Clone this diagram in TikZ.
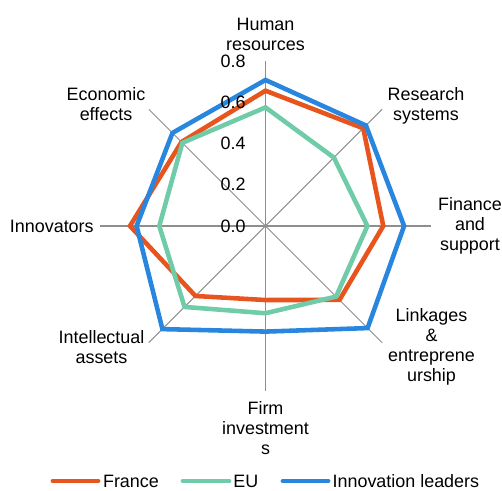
\documentclass[tikz,border=0pt]{standalone}
\usepackage{fontspec}
\setmainfont{Liberation Sans}

\definecolor{france}{HTML}{E8541E}
\definecolor{eu}{HTML}{6FCBA8}
\definecolor{leaders}{HTML}{2886DF}
\definecolor{spoke}{HTML}{8E8E8E}

\tikzset{
    spokeline/.style={draw=spoke, line width=0.6pt},
    series/.style={line width=2.6pt, line join=miter},
    legline/.style={line width=2.4pt, line cap=round},
    lbl/.style={align=center, inner sep=0pt, font=\fontsize{10.2}{11.4}\selectfont},
}

\begin{document}
\begin{tikzpicture}
    \def\rr{4.125}
    \useasboundingbox (-5.31,-5.30) rectangle (4.73,4.52);

    % spokes
    \coordinate (o) at (0,0);
    \foreach \a [count=\i] in {90,45,0,-45,-90,-135,180,135} {
        \coordinate (ax\i) at (\a:3.3);
        \path[spokeline] (o) -- (ax\i);
    }

    % series
    \draw[series, france] (90:{0.656*\rr}) -- (45:{0.670*\rr}) -- (0:{0.571*\rr}) -- (-45:{0.507*\rr})
        -- (-90:{0.359*\rr}) -- (-135:{0.480*\rr}) -- (180:{0.657*\rr}) -- (135:{0.576*\rr}) -- cycle;
    \draw[series, eu] (90:{0.575*\rr}) -- (45:{0.469*\rr}) -- (0:{0.494*\rr}) -- (-45:{0.484*\rr})
        -- (-90:{0.423*\rr}) -- (-135:{0.555*\rr}) -- (180:{0.515*\rr}) -- (135:{0.570*\rr}) -- cycle;
    \draw[series, leaders] (90:{0.708*\rr}) -- (45:{0.689*\rr}) -- (0:{0.672*\rr}) -- (-45:{0.700*\rr})
        -- (-90:{0.512*\rr}) -- (-135:{0.707*\rr}) -- (180:{0.625*\rr}) -- (135:{0.638*\rr}) -- cycle;

    % axis values
    \foreach \t [count=\i] in {0.0,0.2,0.4,0.6,0.8}
        \node[lbl, anchor=east] (tick\i) at (-0.39,{(\i-1)*0.825}) {\t};

    % categories
    \node[lbl] (hr) at (0,3.84) {Human\\resources};
    \node[lbl] (rs) at (3.21,2.41) {Research\\systems};
    \node[lbl] (fs) at (4.09,0) {Finance\\and\\support};
    \node[lbl] (le) at (3.32,-2.41) {Linkages\\\&\\entreprene\\urship};
    \node[lbl] (fi) at (0,-4.04) {Firm\\investment\\s};
    \node[lbl] (ia) at (-3.28,-2.42) {Intellectual\\assets};
    \node[lbl, anchor=east] (inn) at (-3.43,0) {Innovators};
    \node[lbl] (ee) at (-3.19,2.43) {Economic\\effects};

    % legend
    \draw[legline, france] (-4.256,-5.10) -- (-3.344,-5.10);
    \node[lbl, anchor=west] (legfr) at (-3.256,-5.10) {France};
    \draw[legline, eu] (-1.656,-5.10) -- (-0.724,-5.10);
    \node[lbl, anchor=west] (legeu) at (-0.65,-5.10) {EU};
    \draw[legline, leaders] (0.344,-5.10) -- (1.256,-5.10);
    \node[lbl, anchor=west] (legil) at (1.336,-5.10) {Innovation leaders};
\end{tikzpicture}
\end{document}
